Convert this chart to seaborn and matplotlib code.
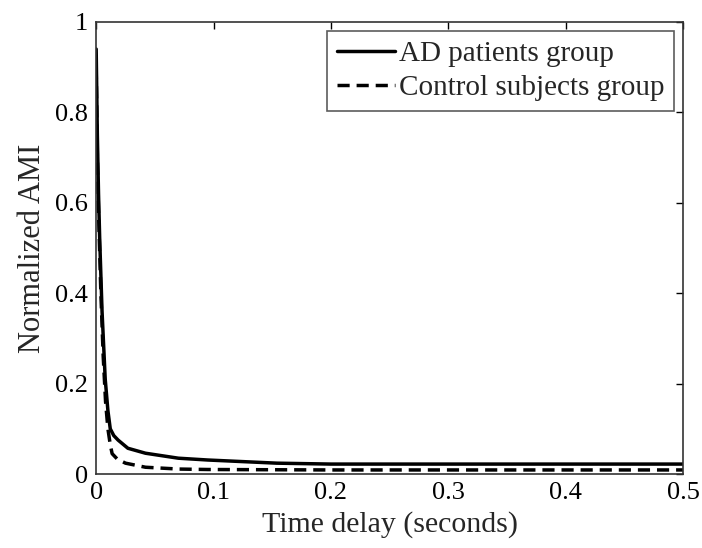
import pandas as pd
import matplotlib
matplotlib.use("Agg")
import matplotlib.pyplot as plt
import seaborn as sns

# Data
ad_time = [0.0, 0.001, 0.002, 0.003, 0.005, 0.0077, 0.010, 0.012, 0.015, 0.0187,
           0.027, 0.042, 0.070, 0.095, 0.154, 0.20, 0.30, 0.40, 0.50]
ad_ami = [0.94, 0.75, 0.62, 0.52, 0.36, 0.21, 0.14, 0.10, 0.085, 0.075,
          0.057, 0.046, 0.035, 0.031, 0.024, 0.022, 0.022, 0.022, 0.022]

ctrl_time = [0.0, 0.001, 0.002, 0.004, 0.006, 0.008, 0.010, 0.012, 0.0136, 0.018,
             0.025, 0.042, 0.070, 0.095, 0.20, 0.30, 0.40, 0.50]
ctrl_ami = [0.90, 0.70, 0.58, 0.40, 0.26, 0.16, 0.10, 0.065, 0.045, 0.033,
            0.024, 0.015, 0.011, 0.010, 0.009, 0.009, 0.009, 0.009]

x_ticks = [0, 0.1, 0.2, 0.3, 0.4, 0.5]
x_tick_labels = ["0", "0.1", "0.2", "0.3", "0.4", "0.5"]
y_ticks = [0, 0.2, 0.4, 0.6, 0.8, 1.0]
y_tick_labels = ["0", "0.2", "0.4", "0.6", "0.8", "1"]

df_ad = pd.DataFrame({"t": ad_time, "ami": ad_ami})
df_ctrl = pd.DataFrame({"t": ctrl_time, "ami": ctrl_ami})

sns.set_style("white")
plt.rcParams['font.family'] = ['Liberation Serif', 'DejaVu Serif']

fig = plt.figure(figsize=(7.02, 5.48), dpi=100)
ax = fig.add_axes([0.137, 0.135, 0.836, 0.825])

sns.lineplot(data=df_ad, x="t", y="ami", color="black", linewidth=2.5,
             label="AD patients group", ax=ax)
sns.lineplot(data=df_ctrl, x="t", y="ami", color="black", linewidth=2.5,
             label="Control subjects group", ax=ax)
ax.lines[1].set_dashes((3.5, 2))

ax.set_xlim(0, 0.5)
ax.set_ylim(0, 1)
ax.set_xticks(x_ticks)
ax.set_xticklabels(x_tick_labels)
ax.set_yticks(y_ticks)
ax.set_yticklabels(y_tick_labels)
ax.tick_params(direction="in", top=True, right=True, length=5, width=1,
               labelsize=19, pad=6, colors="black")

ax.set_xlabel("Time delay (seconds)", fontsize=21.5, labelpad=5)
ax.set_ylabel("Normalized AMI", fontsize=22, labelpad=6)

for s in ax.spines.values():
    s.set_color("#333333")
    s.set_linewidth(1.2)

leg = ax.legend(loc="upper right", fontsize=21, frameon=True, fancybox=False,
                handlelength=2.0, handletextpad=0.12, borderpad=0.35,
                labelspacing=0.25, borderaxespad=0.3)
leg.get_frame().set_edgecolor("#333333")
leg.get_frame().set_linewidth(1.2)

plt.savefig("out.png", dpi=100)
